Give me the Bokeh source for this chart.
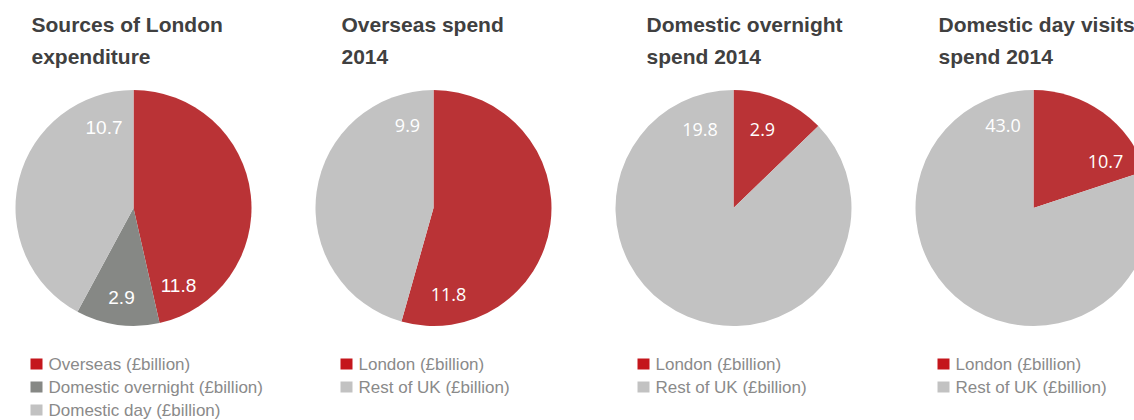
import math
from bokeh.plotting import figure
from bokeh.models import Range1d, ColumnDataSource
from bokeh.core.properties import value
from bokeh.embed import file_html
from bokeh.resources import INLINE

# ---------------- data ----------------
panel_titles = [
    ["Sources of London", "expenditure"],
    ["Overseas spend", "2014"],
    ["Domestic overnight", "spend 2014"],
    ["Domestic day visits", "spend 2014"],
]
sources_labels = ["Overseas (£billion)", "Domestic overnight (£billion)", "Domestic day (£billion)"]
sources_values = [11.8, 2.9, 10.7]
split_labels = ["London (£billion)", "Rest of UK (£billion)"]
overseas_values = [11.8, 9.9]
overnight_values = [2.9, 19.8]
dayvisit_values = [10.7, 43.0]

# ---------------- styles / layout ----------------
PIE_RED = "#BA3336"
LEG_RED = "#C4161C"
DARK_GREY = "#868885"
LIGHT_GREY = "#C2C2C2"
TITLE_COL = "#404040"
LEG_TEXT = "#8A8A8A"

W, H = 1134, 420
TOP = 420  # screen y -> data y : y = TOP - screen_y


def Y(sy):
    return TOP - sy


panels = [
    dict(values=sources_values, labels=sources_labels,
         wedge_colors=[PIE_RED, DARK_GREY, LIGHT_GREY],
         legend_colors=[LEG_RED, DARK_GREY, LIGHT_GREY],
         cx=133, title_x=31, legend_x=30,
         label_offsets=[(45, 77), (-12, 89), (-29.5, -81)],
         label_font="Liberation Sans", label_size="19px"),
    dict(values=overseas_values, labels=split_labels,
         wedge_colors=[PIE_RED, LIGHT_GREY],
         legend_colors=[LEG_RED, LIGHT_GREY],
         cx=433, title_x=341, legend_x=340,
         label_offsets=[(15, 86), (-26, -83)],
         label_font="Open Sans", label_size="18px"),
    dict(values=overnight_values, labels=split_labels,
         wedge_colors=[PIE_RED, LIGHT_GREY],
         legend_colors=[LEG_RED, LIGHT_GREY],
         cx=733, title_x=646, legend_x=637,
         label_offsets=[(29, -78.5), (-33.5, -78.5)],
         label_font="Open Sans", label_size="18px"),
    dict(values=dayvisit_values, labels=split_labels,
         wedge_colors=[PIE_RED, LIGHT_GREY],
         legend_colors=[LEG_RED, LIGHT_GREY],
         cx=1033, title_x=938, legend_x=937,
         label_offsets=[(72, -47), (-30.5, -83)],
         label_font="Open Sans", label_size="18px"),
]
CY = 207.5
R = 118
TITLE_Y = [24, 56]

p = figure(width=W, height=H, x_range=Range1d(0, W), y_range=Range1d(0, H),
           output_backend="svg", toolbar_location=None, min_border=0,
           background_fill_color="white", border_fill_color="white")
p.outline_line_color = None
p.xaxis.visible = False
p.yaxis.visible = False
p.grid.visible = False

for i, pan in enumerate(panels):
    vals = pan["values"]
    total = sum(vals)
    starts, ends = [], []
    cum = 0.0
    for v in vals:
        starts.append(math.pi / 2 - 2 * math.pi * cum / total)
        cum += v
        ends.append(math.pi / 2 - 2 * math.pi * cum / total)
    src = ColumnDataSource(dict(x=[pan["cx"]] * len(vals), y=[Y(CY)] * len(vals),
                                start=starts, end=ends, color=pan["wedge_colors"]))
    p.wedge(x="x", y="y", radius=R, start_angle="start", end_angle="end",
            direction="clock", fill_color="color", line_color=None, source=src)

    # value labels
    lx = [pan["cx"] + o[0] for o in pan["label_offsets"]]
    ly = [Y(CY + o[1]) for o in pan["label_offsets"]]
    p.text(x=lx, y=ly, text=[f"{v:.1f}" for v in vals], text_color="white",
           text_font=value(pan["label_font"]), text_font_size=pan["label_size"],
           text_align="center", text_baseline="middle")

    # titles
    for j, line in enumerate(panel_titles[i]):
        p.text(x=[pan["title_x"]], y=[Y(TITLE_Y[j])], text=[line], text_color=TITLE_COL,
               text_font=value("Liberation Sans"), text_font_style="bold",
               text_font_size="21px", text_align="left", text_baseline="middle")

    # legend
    n = len(pan["labels"])
    ys = [363.5 + 23 * k for k in range(n)]
    p.rect(x=[pan["legend_x"] + 6] * n, y=[Y(yy) for yy in ys], width=12, height=11,
           fill_color=pan["legend_colors"], line_color=None)
    p.text(x=[pan["legend_x"] + 18] * n, y=[Y(yy) for yy in ys], text=pan["labels"],
           text_color=LEG_TEXT, text_font=value("Liberation Sans"), text_font_size="17px",
           text_align="left", text_baseline="middle")

open("out.html", "w").write(file_html(p, INLINE))
